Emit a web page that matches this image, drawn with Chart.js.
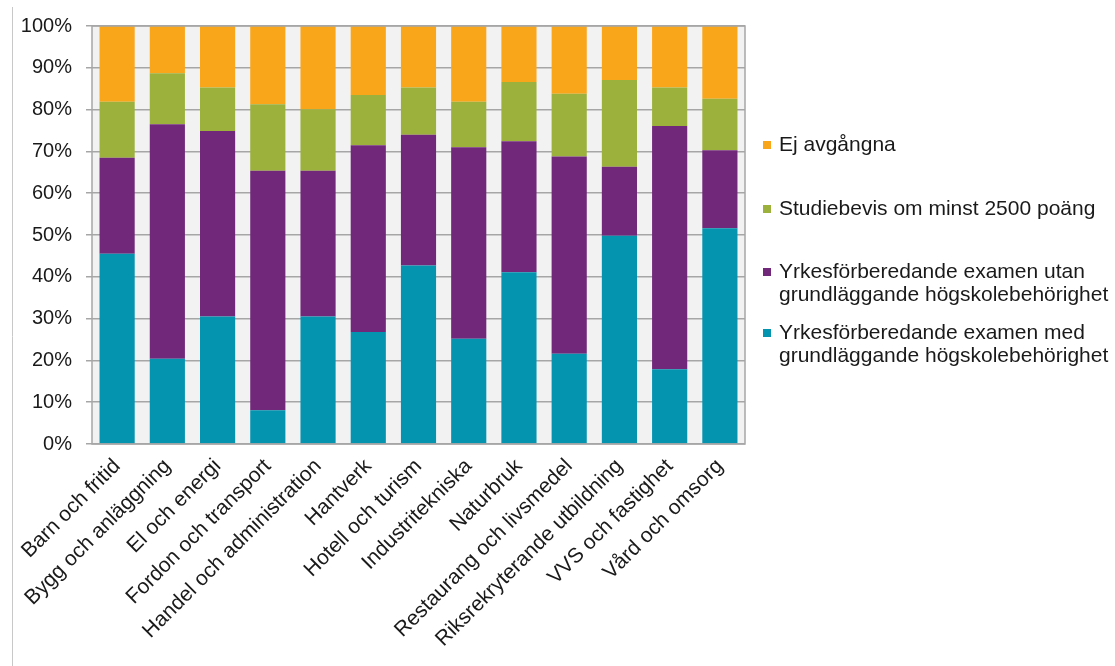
<!DOCTYPE html>
<html>
<head>
<meta charset="utf-8">
<script src="https://cdn.jsdelivr.net/npm/chart.js@4"></script>
<style>
    html, body { margin: 0; padding: 0; background: #fff; }
    #wrap { width: 1115px; height: 666px; }
</style>
</head>
<body>
<div id="wrap"><canvas id="chart" width="1115" height="666"></canvas></div>
<script>
// Categories (programmes)
const categories = [
    'Barn och fritid', 'Bygg och anläggning', 'El och energi', 'Fordon och transport',
    'Handel och administration', 'Hantverk', 'Hotell och turism', 'Industritekniska',
    'Naturbruk', 'Restaurang och livsmedel', 'Riksrekryterande utbildning',
    'VVS och fastighet', 'Vård och omsorg'
];

// Series values, in percent (bottom to top of each stack)
const medBehorighet = [45.5, 20.4, 30.5, 8.1, 30.5, 26.8, 42.7, 25.2, 41.1, 21.6, 49.8, 17.9, 51.6];
const utanBehorighet = [23.0, 56.1, 44.4, 57.3, 34.9, 44.7, 31.3, 45.8, 31.3, 47.2, 16.5, 58.2, 18.7];
const studiebevis = [13.4, 12.2, 10.4, 15.9, 14.7, 12.0, 11.3, 10.9, 14.2, 15.0, 20.8, 9.2, 12.3];
const ejAvgangna = [18.1, 11.3, 14.7, 18.7, 19.9, 16.5, 14.7, 18.1, 13.4, 16.2, 12.9, 14.7, 17.4];

// Legend names (split in lines like the original)
const seriesNames = [
    ['Yrkesförberedande examen med', 'grundläggande högskolebehörighet'],
    ['Yrkesförberedande examen utan', 'grundläggande högskolebehörighet'],
    ['Studiebevis om minst 2500 poäng'],
    ['Ej avgångna']
];
const seriesColors = ['#0494b0', '#71287a', '#9cb13c', '#faa61a'];

const FONT = '"Liberation Sans", Arial, sans-serif';

// Plot background, frame line and legend
const decorPlugin = {
    id: 'decor',
    beforeDraw(chart) {
        const { ctx, chartArea: a } = chart;
        ctx.save();
        ctx.fillStyle = '#f2f2f2';
        ctx.fillRect(a.left, a.top, a.right - a.left, a.bottom - a.top);
        // outer frame left edge
        ctx.strokeStyle = '#c8c8c8';
        ctx.lineWidth = 1;
        ctx.beginPath();
        ctx.moveTo(12.5, 7);
        ctx.lineTo(12.5, 666);
        ctx.stroke();
        ctx.restore();
    },
    afterDraw(chart) {
        const { ctx, chartArea: a } = chart;
        ctx.save();
        // plot border
        ctx.strokeStyle = '#a6a6a6';
        ctx.lineWidth = 1.5;
        ctx.strokeRect(a.left, a.top, a.right - a.left, a.bottom - a.top);

        // legend (reversed order, top = last series)
        const itemTops = [145, 209, 272, 333];
        const lineGap = 23;
        ctx.font = '21px ' + FONT;
        ctx.textBaseline = 'middle';
        const x = a.right + 18;
        for (let i = 0; i < seriesNames.length; i++) {
            const idx = seriesNames.length - 1 - i;
            const y = itemTops[i];
            ctx.fillStyle = seriesColors[idx];
            ctx.fillRect(x, y - 4, 8, 8);
            ctx.fillStyle = '#1a1a1a';
            seriesNames[idx].forEach((line, j) => {
                ctx.fillText(line, x + 16, y + j * lineGap);
            });
        }
        ctx.restore();
    }
};

const ctx = document.getElementById('chart').getContext('2d');
new Chart(ctx, {
    type: 'bar',
    data: {
        labels: categories,
        datasets: [medBehorighet, utanBehorighet, studiebevis, ejAvgangna].map((values, i) => ({
            label: seriesNames[i].join(' '),
            data: values,
            backgroundColor: seriesColors[i],
            borderWidth: 0,
            barPercentage: 0.7,
            categoryPercentage: 1
        }))
    },
    options: {
        responsive: false,
        animation: false,
        layout: {
            padding: { top: 25, right: 370, bottom: 0, left: 0 }
        },
        plugins: {
            legend: { display: false },
            tooltip: { enabled: false }
        },
        scales: {
            x: {
                stacked: true,
                grid: { display: false },
                border: { display: false },
                ticks: {
                    color: '#1a1a1a',
                    font: { family: FONT, size: 21 },
                    maxRotation: 45,
                    minRotation: 45,
                    autoSkip: false,
                    padding: 2
                },
                afterFit(scale) { scale.height = 222; }
            },
            y: {
                stacked: true,
                min: 0,
                max: 100,
                ticks: {
                    stepSize: 10,
                    color: '#1a1a1a',
                    font: { family: FONT, size: 20 },
                    padding: 14,
                    callback: v => v + '%'
                },
                grid: {
                    color: '#a6a6a6',
                    lineWidth: 1.5,
                    tickLength: 6,
                    drawTicks: true
                },
                border: { display: false },
                afterFit(scale) { scale.width = 92; }
            }
        }
    },
    plugins: [decorPlugin]
});
</script>
</body>
</html>
